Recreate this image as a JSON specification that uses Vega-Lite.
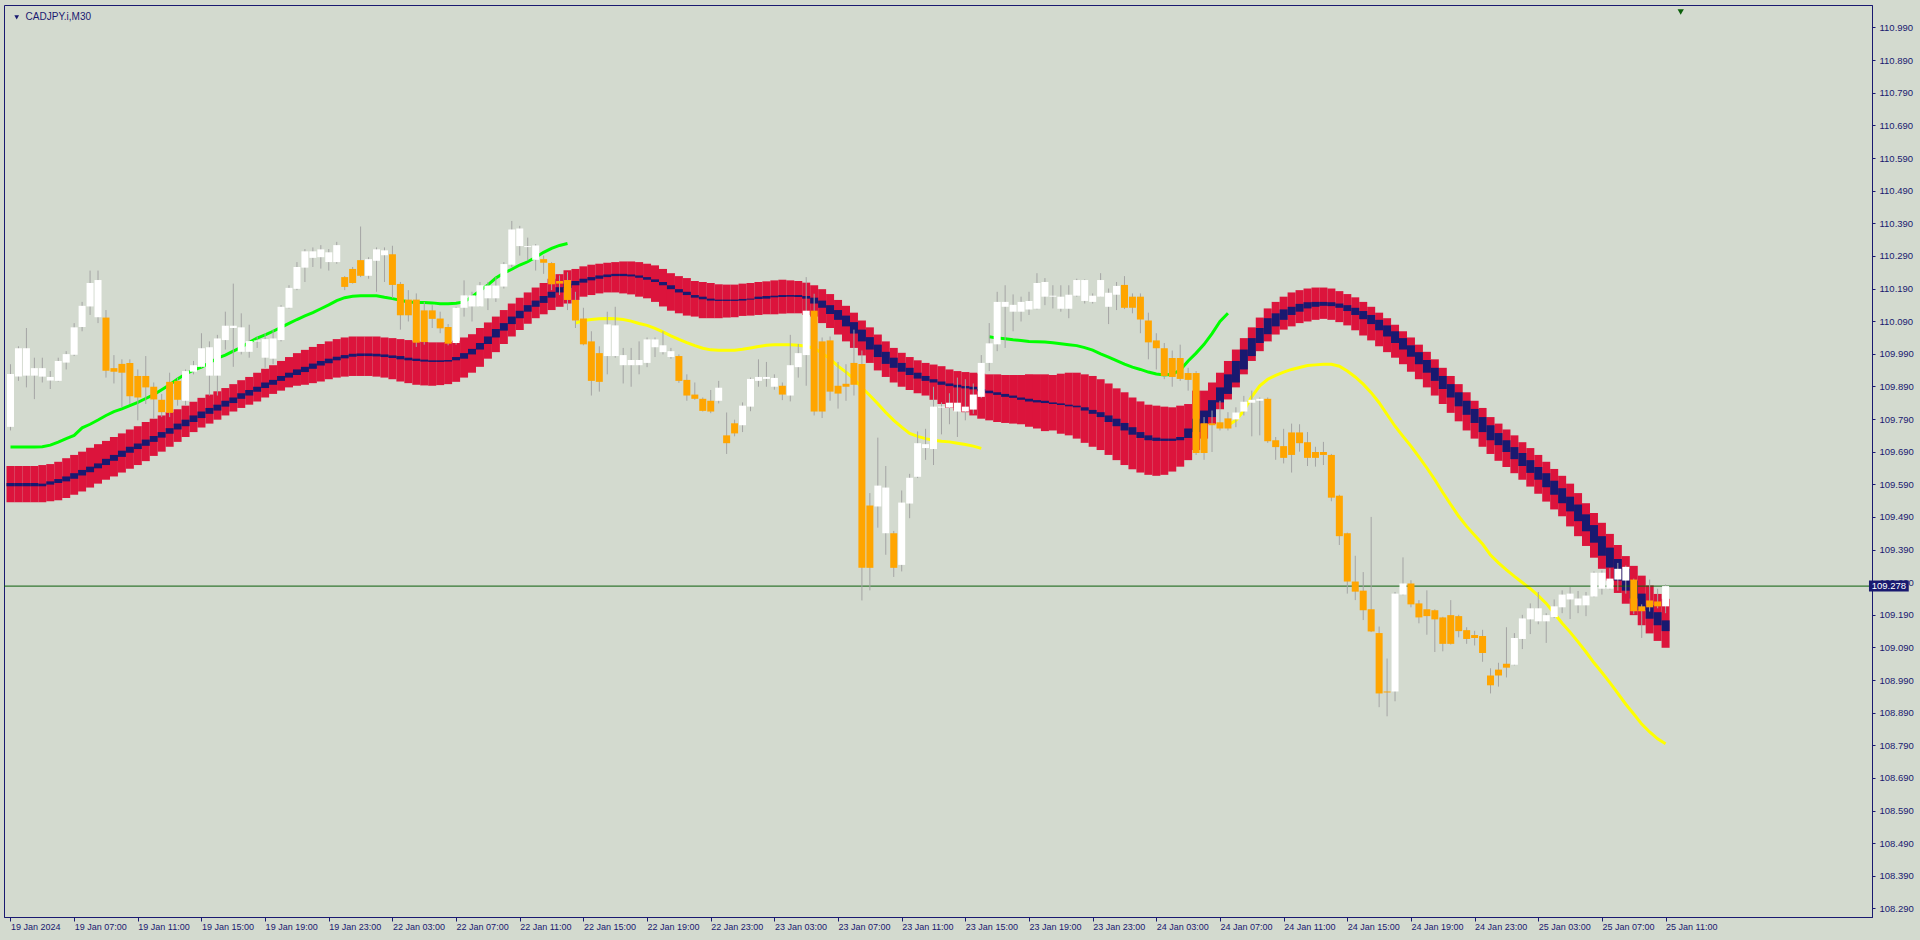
{
"$schema":"https://vega.github.io/schema/vega-lite/v6.json",
"width":1868,"height":912,"autosize":"none",
"padding":{"left":4,"top":5,"right":48,"bottom":23},
"background":"#d3dacf",
"config":{"view":{"stroke":"#191970","strokeWidth":1},
"axis":{"domainColor":"#191970","tickColor":"#191970","labelColor":"#191970","labelFont":"Liberation Sans","labelFontSize":9,"grid":false,"domainWidth":1,"tickWidth":1,"labelOverlap":false}},
"data":{"values":[
{"i":0,"o":109.766,"h":109.958,"l":109.755,"c":109.928,"t":109.646,"b":109.535,"n1":109.594,"n2":109.584,"g1":109.704},
{"i":1,"o":109.920,"h":110.013,"l":109.907,"c":110.007,"t":109.646,"b":109.535,"n1":109.594,"n2":109.584,"g1":109.704},
{"i":2,"o":109.923,"h":110.069,"l":109.887,"c":110.007,"t":109.646,"b":109.535,"n1":109.594,"n2":109.584,"g1":109.704},
{"i":3,"o":109.923,"h":109.978,"l":109.851,"c":109.946,"t":109.646,"b":109.535,"n1":109.594,"n2":109.584,"g1":109.704},
{"i":4,"o":109.920,"h":109.978,"l":109.902,"c":109.946,"t":109.649,"b":109.535,"n1":109.592,"n2":109.584,"g1":109.705},
{"i":5,"o":109.908,"h":109.937,"l":109.882,"c":109.919,"t":109.652,"b":109.538,"n1":109.599,"n2":109.589,"g1":109.710},
{"i":6,"o":109.907,"h":109.978,"l":109.905,"c":109.968,"t":109.659,"b":109.541,"n1":109.606,"n2":109.594,"g1":109.719},
{"i":7,"o":109.963,"h":109.998,"l":109.942,"c":109.989,"t":109.670,"b":109.548,"n1":109.614,"n2":109.599,"g1":109.730},
{"i":8,"o":109.987,"h":110.084,"l":109.983,"c":110.071,"t":109.680,"b":109.558,"n1":109.624,"n2":109.607,"g1":109.740},
{"i":9,"o":110.072,"h":110.149,"l":110.059,"c":110.137,"t":109.690,"b":109.568,"n1":109.634,"n2":109.617,"g1":109.763},
{"i":10,"o":110.135,"h":110.245,"l":110.109,"c":110.207,"t":109.702,"b":109.580,"n1":109.644,"n2":109.627,"g1":109.774},
{"i":11,"o":110.102,"h":110.245,"l":110.084,"c":110.216,"t":109.713,"b":109.592,"n1":109.654,"n2":109.639,"g1":109.787},
{"i":12,"o":110.101,"h":110.124,"l":109.917,"c":109.938,"t":109.723,"b":109.604,"n1":109.668,"n2":109.649,"g1":109.801},
{"i":13,"o":109.946,"h":109.986,"l":109.899,"c":109.935,"t":109.735,"b":109.614,"n1":109.680,"n2":109.662,"g1":109.813},
{"i":14,"o":109.959,"h":109.973,"l":109.826,"c":109.932,"t":109.746,"b":109.626,"n1":109.693,"n2":109.674,"g1":109.821},
{"i":15,"o":109.962,"h":109.973,"l":109.836,"c":109.860,"t":109.758,"b":109.638,"n1":109.705,"n2":109.687,"g1":109.831},
{"i":16,"o":109.922,"h":109.942,"l":109.786,"c":109.856,"t":109.768,"b":109.649,"n1":109.715,"n2":109.698,"g1":109.841},
{"i":17,"o":109.922,"h":109.983,"l":109.836,"c":109.887,"t":109.781,"b":109.661,"n1":109.727,"n2":109.708,"g1":109.853},
{"i":18,"o":109.889,"h":109.902,"l":109.791,"c":109.850,"t":109.791,"b":109.677,"n1":109.738,"n2":109.720,"g1":109.865},
{"i":19,"o":109.849,"h":109.867,"l":109.796,"c":109.811,"t":109.801,"b":109.690,"n1":109.750,"n2":109.733,"g1":109.880},
{"i":20,"o":109.904,"h":109.932,"l":109.796,"c":109.809,"t":109.811,"b":109.705,"n1":109.762,"n2":109.745,"g1":109.895},
{"i":21,"o":109.907,"h":109.917,"l":109.831,"c":109.849,"t":109.820,"b":109.720,"n1":109.776,"n2":109.758,"g1":109.913},
{"i":22,"o":109.846,"h":109.942,"l":109.831,"c":109.937,"t":109.831,"b":109.735,"n1":109.788,"n2":109.768,"g1":109.928},
{"i":23,"o":109.935,"h":109.968,"l":109.927,"c":109.955,"t":109.843,"b":109.750,"n1":109.801,"n2":109.781,"g1":109.940},
{"i":24,"o":109.950,"h":110.053,"l":109.947,"c":110.007,"t":109.855,"b":109.764,"n1":109.813,"n2":109.793,"g1":109.949},
{"i":25,"o":109.923,"h":110.028,"l":109.862,"c":110.010,"t":109.865,"b":109.776,"n1":109.824,"n2":109.806,"g1":109.962},
{"i":26,"o":109.923,"h":110.048,"l":109.862,"c":110.037,"t":109.875,"b":109.788,"n1":109.834,"n2":109.816,"g1":109.977},
{"i":27,"o":110.032,"h":110.119,"l":110.003,"c":110.076,"t":109.885,"b":109.801,"n1":109.846,"n2":109.828,"g1":109.986},
{"i":28,"o":110.069,"h":110.205,"l":109.950,"c":110.076,"t":109.897,"b":109.813,"n1":109.856,"n2":109.839,"g1":109.998},
{"i":29,"o":109.996,"h":110.114,"l":109.988,"c":110.071,"t":109.909,"b":109.824,"n1":109.869,"n2":109.852,"g1":110.010},
{"i":30,"o":109.996,"h":110.079,"l":109.978,"c":110.029,"t":109.919,"b":109.834,"n1":109.879,"n2":109.862,"g1":110.025},
{"i":31,"o":110.028,"h":110.043,"l":110.008,"c":110.031,"t":109.932,"b":109.844,"n1":109.889,"n2":109.874,"g1":110.038},
{"i":32,"o":109.978,"h":110.053,"l":109.947,"c":110.035,"t":109.944,"b":109.856,"n1":109.902,"n2":109.885,"g1":110.048},
{"i":33,"o":109.975,"h":110.064,"l":109.958,"c":110.037,"t":109.955,"b":109.867,"n1":109.910,"n2":109.895,"g1":110.059},
{"i":34,"o":110.032,"h":110.139,"l":110.028,"c":110.134,"t":109.968,"b":109.877,"n1":109.922,"n2":109.907,"g1":110.071},
{"i":35,"o":110.131,"h":110.200,"l":110.129,"c":110.192,"t":109.980,"b":109.887,"n1":109.932,"n2":109.917,"g1":110.083},
{"i":36,"o":110.189,"h":110.271,"l":110.185,"c":110.256,"t":109.992,"b":109.892,"n1":109.942,"n2":109.925,"g1":110.095},
{"i":37,"o":110.254,"h":110.311,"l":110.210,"c":110.304,"t":110.002,"b":109.895,"n1":109.950,"n2":109.934,"g1":110.106},
{"i":38,"o":110.284,"h":110.316,"l":110.256,"c":110.304,"t":110.011,"b":109.900,"n1":109.960,"n2":109.944,"g1":110.116},
{"i":39,"o":110.286,"h":110.323,"l":110.251,"c":110.310,"t":110.020,"b":109.905,"n1":109.968,"n2":109.954,"g1":110.128},
{"i":40,"o":110.271,"h":110.311,"l":110.245,"c":110.301,"t":110.028,"b":109.912,"n1":109.975,"n2":109.961,"g1":110.140},
{"i":41,"o":110.271,"h":110.333,"l":110.266,"c":110.323,"t":110.035,"b":109.917,"n1":109.981,"n2":109.970,"g1":110.153},
{"i":42,"o":110.225,"h":110.228,"l":110.185,"c":110.195,"t":110.040,"b":109.920,"n1":109.986,"n2":109.976,"g1":110.162},
{"i":43,"o":110.250,"h":110.256,"l":110.205,"c":110.207,"t":110.043,"b":109.922,"n1":109.990,"n2":109.981,"g1":110.166},
{"i":44,"o":110.277,"h":110.380,"l":110.225,"c":110.229,"t":110.043,"b":109.922,"n1":109.991,"n2":109.983,"g1":110.168},
{"i":45,"o":110.229,"h":110.286,"l":110.220,"c":110.280,"t":110.043,"b":109.922,"n1":109.991,"n2":109.983,"g1":110.168},
{"i":46,"o":110.275,"h":110.316,"l":110.180,"c":110.310,"t":110.043,"b":109.920,"n1":109.990,"n2":109.982,"g1":110.168},
{"i":47,"o":110.292,"h":110.316,"l":110.210,"c":110.307,"t":110.040,"b":109.917,"n1":109.988,"n2":109.980,"g1":110.163},
{"i":48,"o":110.295,"h":110.321,"l":110.160,"c":110.201,"t":110.038,"b":109.912,"n1":109.985,"n2":109.977,"g1":110.159},
{"i":49,"o":110.204,"h":110.210,"l":110.064,"c":110.108,"t":110.035,"b":109.905,"n1":109.983,"n2":109.973,"g1":110.154},
{"i":50,"o":110.156,"h":110.185,"l":110.089,"c":110.108,"t":110.032,"b":109.900,"n1":109.978,"n2":109.970,"g1":110.149},
{"i":51,"o":110.156,"h":110.175,"l":110.011,"c":110.024,"t":110.028,"b":109.895,"n1":109.975,"n2":109.968,"g1":110.147},
{"i":52,"o":110.123,"h":110.149,"l":110.018,"c":110.026,"t":110.026,"b":109.893,"n1":109.972,"n2":109.966,"g1":110.147},
{"i":53,"o":110.123,"h":110.139,"l":110.069,"c":110.097,"t":110.025,"b":109.892,"n1":109.970,"n2":109.965,"g1":110.146},
{"i":54,"o":110.098,"h":110.119,"l":110.053,"c":110.068,"t":110.025,"b":109.894,"n1":109.970,"n2":109.965,"g1":110.143},
{"i":55,"o":110.072,"h":110.081,"l":110.016,"c":110.021,"t":110.026,"b":109.897,"n1":109.971,"n2":109.966,"g1":110.143},
{"i":56,"o":110.023,"h":110.134,"l":110.018,"c":110.131,"t":110.030,"b":109.904,"n1":109.980,"n2":109.970,"g1":110.145},
{"i":57,"o":110.131,"h":110.215,"l":110.104,"c":110.169,"t":110.040,"b":109.917,"n1":109.992,"n2":109.975,"g1":110.149},
{"i":58,"o":110.135,"h":110.180,"l":110.089,"c":110.169,"t":110.050,"b":109.932,"n1":110.005,"n2":109.988,"g1":110.165},
{"i":59,"o":110.135,"h":110.210,"l":110.134,"c":110.200,"t":110.069,"b":109.950,"n1":110.023,"n2":110.003,"g1":110.183},
{"i":60,"o":110.160,"h":110.210,"l":110.124,"c":110.199,"t":110.086,"b":109.975,"n1":110.043,"n2":110.020,"g1":110.201},
{"i":61,"o":110.160,"h":110.225,"l":110.149,"c":110.199,"t":110.104,"b":109.995,"n1":110.066,"n2":110.040,"g1":110.222},
{"i":62,"o":110.196,"h":110.271,"l":110.190,"c":110.265,"t":110.124,"b":110.020,"n1":110.084,"n2":110.061,"g1":110.237},
{"i":63,"o":110.263,"h":110.397,"l":110.256,"c":110.371,"t":110.144,"b":110.043,"n1":110.104,"n2":110.081,"g1":110.249},
{"i":64,"o":110.320,"h":110.382,"l":110.291,"c":110.374,"t":110.162,"b":110.063,"n1":110.122,"n2":110.099,"g1":110.262},
{"i":65,"o":110.317,"h":110.346,"l":110.276,"c":110.320,"t":110.178,"b":110.082,"n1":110.139,"n2":110.119,"g1":110.272},
{"i":66,"o":110.278,"h":110.326,"l":110.245,"c":110.322,"t":110.193,"b":110.099,"n1":110.153,"n2":110.134,"g1":110.286},
{"i":67,"o":110.280,"h":110.291,"l":110.235,"c":110.269,"t":110.207,"b":110.111,"n1":110.167,"n2":110.146,"g1":110.301},
{"i":68,"o":110.268,"h":110.271,"l":110.185,"c":110.203,"t":110.220,"b":110.124,"n1":110.180,"n2":110.162,"g1":110.313},
{"i":69,"o":110.213,"h":110.230,"l":110.170,"c":110.205,"t":110.234,"b":110.134,"n1":110.194,"n2":110.178,"g1":110.322},
{"i":70,"o":110.216,"h":110.240,"l":110.124,"c":110.155,"t":110.246,"b":110.144,"n1":110.205,"n2":110.192,"g1":110.328},
{"i":71,"o":110.155,"h":110.180,"l":110.069,"c":110.092,"t":110.250,"b":110.155,"n1":110.213,"n2":110.200,"y1":110.084},
{"i":72,"o":110.098,"h":110.131,"l":110.016,"c":110.019,"t":110.258,"b":110.165,"n1":110.220,"n2":110.208,"y1":110.092},
{"i":73,"o":110.028,"h":110.059,"l":109.862,"c":109.907,"t":110.263,"b":110.170,"n1":110.225,"n2":110.215,"y1":110.095},
{"i":74,"o":109.992,"h":110.013,"l":109.874,"c":109.904,"t":110.266,"b":110.175,"n1":110.230,"n2":110.220,"y1":110.097},
{"i":75,"o":109.983,"h":110.119,"l":109.927,"c":110.080,"t":110.269,"b":110.178,"n1":110.233,"n2":110.225,"y1":110.098},
{"i":76,"o":109.983,"h":110.134,"l":109.978,"c":110.077,"t":110.271,"b":110.178,"n1":110.235,"n2":110.228,"y1":110.097},
{"i":77,"o":109.955,"h":110.008,"l":109.899,"c":109.986,"t":110.273,"b":110.175,"n1":110.235,"n2":110.228,"y1":110.095},
{"i":78,"o":109.955,"h":110.008,"l":109.889,"c":109.971,"t":110.273,"b":110.172,"n1":110.233,"n2":110.227,"y1":110.090},
{"i":79,"o":109.955,"h":110.028,"l":109.927,"c":109.971,"t":110.271,"b":110.165,"n1":110.230,"n2":110.223,"y1":110.083},
{"i":80,"o":109.962,"h":110.040,"l":109.949,"c":110.034,"t":110.266,"b":110.160,"n1":110.225,"n2":110.217,"y1":110.077},
{"i":81,"o":110.010,"h":110.040,"l":109.980,"c":110.034,"t":110.261,"b":110.149,"n1":110.218,"n2":110.210,"y1":110.068},
{"i":82,"o":109.995,"h":110.059,"l":109.988,"c":110.016,"t":110.250,"b":110.135,"n1":110.210,"n2":110.200,"y1":110.057},
{"i":83,"o":109.980,"h":110.008,"l":109.975,"c":109.998,"t":110.237,"b":110.122,"n1":110.200,"n2":110.188,"y1":110.045},
{"i":84,"o":109.983,"h":109.988,"l":109.901,"c":109.907,"t":110.228,"b":110.114,"n1":110.188,"n2":110.178,"y1":110.034},
{"i":85,"o":109.910,"h":109.927,"l":109.846,"c":109.862,"t":110.222,"b":110.107,"n1":110.180,"n2":110.170,"y1":110.024},
{"i":86,"o":109.865,"h":109.902,"l":109.849,"c":109.852,"t":110.213,"b":110.104,"n1":110.170,"n2":110.162,"y1":110.015},
{"i":87,"o":109.852,"h":109.856,"l":109.813,"c":109.815,"t":110.210,"b":110.099,"n1":110.165,"n2":110.157,"y1":110.007},
{"i":88,"o":109.846,"h":109.879,"l":109.808,"c":109.813,"t":110.207,"b":110.099,"n1":110.159,"n2":110.153,"y1":110.002},
{"i":89,"o":109.846,"h":109.907,"l":109.838,"c":109.886,"t":110.203,"b":110.099,"n1":110.156,"n2":110.152,"y1":110.001},
{"i":90,"o":109.740,"h":109.810,"l":109.683,"c":109.716,"t":110.202,"b":110.101,"n1":110.156,"n2":110.152,"y1":110.001},
{"i":91,"o":109.777,"h":109.788,"l":109.737,"c":109.746,"t":110.202,"b":110.102,"n1":110.156,"n2":110.152,"y1":110.001},
{"i":92,"o":109.771,"h":109.841,"l":109.750,"c":109.831,"t":110.205,"b":110.106,"n1":110.158,"n2":110.153,"y1":110.004},
{"i":93,"o":109.828,"h":109.917,"l":109.814,"c":109.913,"t":110.207,"b":110.107,"n1":110.159,"n2":110.156,"y1":110.008},
{"i":94,"o":109.907,"h":109.973,"l":109.889,"c":109.919,"t":110.210,"b":110.109,"n1":110.165,"n2":110.158,"y1":110.012},
{"i":95,"o":109.913,"h":109.965,"l":109.889,"c":109.919,"t":110.212,"b":110.111,"n1":110.167,"n2":110.159,"y1":110.016},
{"i":96,"o":109.889,"h":109.927,"l":109.880,"c":109.916,"t":110.215,"b":110.111,"n1":110.168,"n2":110.163,"y1":110.018},
{"i":97,"o":109.892,"h":109.902,"l":109.848,"c":109.865,"t":110.217,"b":110.113,"n1":110.170,"n2":110.164,"y1":110.018},
{"i":98,"o":109.862,"h":110.048,"l":109.844,"c":109.955,"t":110.215,"b":110.114,"n1":110.170,"n2":110.165,"y1":110.018},
{"i":99,"o":109.949,"h":110.020,"l":109.917,"c":109.992,"t":110.213,"b":110.114,"n1":110.170,"n2":110.164,"y1":110.016},
{"i":100,"o":109.986,"h":110.225,"l":109.892,"c":110.122,"t":110.208,"b":110.109,"n1":110.167,"n2":110.159,"y1":110.013},
{"i":101,"o":110.122,"h":110.174,"l":109.801,"c":109.813,"t":110.200,"b":110.104,"n1":110.162,"n2":110.144,"y1":110.007},
{"i":102,"o":110.028,"h":110.040,"l":109.793,"c":109.813,"t":110.188,"b":110.084,"n1":110.153,"n2":110.131,"y1":109.992},
{"i":103,"o":110.031,"h":110.043,"l":109.846,"c":109.874,"t":110.173,"b":110.069,"n1":110.139,"n2":110.112,"y1":109.974},
{"i":104,"o":109.892,"h":109.965,"l":109.822,"c":109.868,"t":110.155,"b":110.049,"n1":110.124,"n2":110.094,"y1":109.952},
{"i":105,"o":109.898,"h":109.958,"l":109.846,"c":109.889,"t":110.137,"b":110.028,"n1":110.107,"n2":110.074,"y1":109.934},
{"i":106,"o":109.962,"h":110.064,"l":109.862,"c":109.895,"t":110.116,"b":110.008,"n1":110.087,"n2":110.052,"y1":109.913},
{"i":107,"o":109.959,"h":110.000,"l":109.234,"c":109.334,"t":110.092,"b":109.985,"n1":110.064,"n2":110.028,"y1":109.886},
{"i":108,"o":109.525,"h":109.563,"l":109.265,"c":109.334,"t":110.071,"b":109.962,"n1":110.041,"n2":110.003,"y1":109.862},
{"i":109,"o":109.522,"h":109.733,"l":109.457,"c":109.586,"t":110.049,"b":109.939,"n1":110.018,"n2":109.980,"y1":109.837},
{"i":110,"o":109.440,"h":109.646,"l":109.374,"c":109.580,"t":110.028,"b":109.919,"n1":109.996,"n2":109.959,"y1":109.810},
{"i":111,"o":109.440,"h":109.447,"l":109.306,"c":109.334,"t":110.008,"b":109.902,"n1":109.978,"n2":109.947,"y1":109.786},
{"i":112,"o":109.343,"h":109.571,"l":109.323,"c":109.534,"t":109.993,"b":109.889,"n1":109.962,"n2":109.935,"y1":109.765},
{"i":113,"o":109.531,"h":109.622,"l":109.486,"c":109.610,"t":109.980,"b":109.879,"n1":109.947,"n2":109.925,"y1":109.746},
{"i":114,"o":109.613,"h":109.752,"l":109.609,"c":109.716,"t":109.970,"b":109.869,"n1":109.932,"n2":109.914,"y1":109.737},
{"i":115,"o":109.701,"h":109.760,"l":109.665,"c":109.713,"t":109.962,"b":109.862,"n1":109.922,"n2":109.907,"y1":109.730},
{"i":116,"o":109.698,"h":109.889,"l":109.649,"c":109.828,"t":109.957,"b":109.849,"n1":109.912,"n2":109.902,"y1":109.725},
{"i":117,"o":109.825,"h":109.841,"l":109.743,"c":109.828,"t":109.952,"b":109.836,"n1":109.905,"n2":109.895,"y1":109.722},
{"i":118,"o":109.825,"h":109.869,"l":109.774,"c":109.840,"t":109.942,"b":109.824,"n1":109.899,"n2":109.891,"y1":109.720},
{"i":119,"o":109.813,"h":109.917,"l":109.735,"c":109.840,"t":109.937,"b":109.816,"n1":109.895,"n2":109.887,"y1":109.716},
{"i":120,"o":109.813,"h":109.912,"l":109.786,"c":109.828,"t":109.934,"b":109.811,"n1":109.891,"n2":109.884,"y1":109.712},
{"i":121,"o":109.819,"h":109.899,"l":109.806,"c":109.865,"t":109.932,"b":109.801,"n1":109.889,"n2":109.881,"y1":109.707},
{"i":122,"o":109.858,"h":109.986,"l":109.854,"c":109.962,"t":109.929,"b":109.791,"n1":109.882,"n2":109.875,"y1":109.700},
{"i":123,"o":109.962,"h":110.084,"l":109.937,"c":110.022,"t":109.927,"b":109.786,"n1":109.877,"n2":109.869,"g2":110.042},
{"i":124,"o":110.019,"h":110.180,"l":109.998,"c":110.149,"t":109.927,"b":109.781,"n1":109.872,"n2":109.864,"g2":110.038},
{"i":125,"o":110.134,"h":110.200,"l":110.008,"c":110.149,"t":109.925,"b":109.778,"n1":109.867,"n2":109.858,"g2":110.036},
{"i":126,"o":110.119,"h":110.172,"l":110.059,"c":110.140,"t":109.925,"b":109.776,"n1":109.862,"n2":109.855,"g2":110.033},
{"i":127,"o":110.119,"h":110.165,"l":110.089,"c":110.149,"t":109.925,"b":109.774,"n1":109.856,"n2":109.849,"g2":110.031},
{"i":128,"o":110.126,"h":110.180,"l":110.109,"c":110.152,"t":109.927,"b":109.766,"n1":109.852,"n2":109.844,"g2":110.028},
{"i":129,"o":110.128,"h":110.237,"l":110.126,"c":110.207,"t":109.927,"b":109.761,"n1":109.848,"n2":109.841,"g2":110.027},
{"i":130,"o":110.165,"h":110.222,"l":110.139,"c":110.210,"t":109.927,"b":109.753,"n1":109.846,"n2":109.839,"g2":110.026},
{"i":131,"o":110.165,"h":110.200,"l":110.129,"c":110.168,"t":109.925,"b":109.755,"n1":109.841,"n2":109.836,"g2":110.024},
{"i":132,"o":110.128,"h":110.200,"l":110.119,"c":110.165,"t":109.929,"b":109.745,"n1":109.838,"n2":109.833,"g2":110.021},
{"i":133,"o":110.128,"h":110.200,"l":110.099,"c":110.171,"t":109.932,"b":109.740,"n1":109.834,"n2":109.829,"g2":110.018},
{"i":134,"o":110.168,"h":110.220,"l":110.165,"c":110.216,"t":109.932,"b":109.730,"n1":109.831,"n2":109.826,"g2":110.015},
{"i":135,"o":110.152,"h":110.218,"l":110.144,"c":110.216,"t":109.927,"b":109.717,"n1":109.826,"n2":109.816,"g2":110.009},
{"i":136,"o":110.149,"h":110.175,"l":110.144,"c":110.168,"t":109.922,"b":109.705,"n1":109.818,"n2":109.806,"g2":110.001},
{"i":137,"o":110.165,"h":110.237,"l":110.165,"c":110.216,"t":109.912,"b":109.695,"n1":109.811,"n2":109.796,"g2":109.990},
{"i":138,"o":110.134,"h":110.190,"l":110.081,"c":110.177,"t":109.899,"b":109.680,"n1":109.801,"n2":109.781,"g2":109.980},
{"i":139,"o":110.171,"h":110.210,"l":110.124,"c":110.198,"t":109.884,"b":109.664,"n1":109.791,"n2":109.768,"g2":109.969},
{"i":140,"o":110.201,"h":110.228,"l":110.127,"c":110.131,"t":109.872,"b":109.649,"n1":109.778,"n2":109.755,"g2":109.958},
{"i":141,"o":110.165,"h":110.175,"l":110.114,"c":110.131,"t":109.856,"b":109.636,"n1":109.765,"n2":109.742,"g2":109.949},
{"i":142,"o":110.165,"h":110.175,"l":110.053,"c":110.095,"t":109.844,"b":109.626,"n1":109.750,"n2":109.732,"g2":109.942},
{"i":143,"o":110.092,"h":110.116,"l":109.973,"c":110.025,"t":109.834,"b":109.619,"n1":109.740,"n2":109.725,"g2":109.934},
{"i":144,"o":110.031,"h":110.053,"l":109.942,"c":110.007,"t":109.831,"b":109.616,"n1":109.733,"n2":109.723,"g2":109.928},
{"i":145,"o":110.007,"h":110.023,"l":109.912,"c":109.922,"t":109.828,"b":109.619,"n1":109.730,"n2":109.723,"g2":109.925},
{"i":146,"o":109.977,"h":110.000,"l":109.889,"c":109.919,"t":109.826,"b":109.629,"n1":109.730,"n2":109.723,"g2":109.927},
{"i":147,"o":109.977,"h":110.018,"l":109.907,"c":109.913,"t":109.831,"b":109.644,"n1":109.735,"n2":109.725,"g2":109.940},
{"i":148,"o":109.931,"h":109.947,"l":109.877,"c":109.910,"t":109.836,"b":109.664,"n1":109.761,"n2":109.732,"g2":109.968},
{"i":149,"o":109.931,"h":109.937,"l":109.680,"c":109.686,"t":109.877,"b":109.695,"n1":109.791,"n2":109.750,"g2":109.992},
{"i":150,"o":109.777,"h":109.796,"l":109.665,"c":109.686,"t":109.877,"b":109.730,"n1":109.816,"n2":109.776,"g2":110.019},
{"i":151,"o":109.777,"h":109.816,"l":109.689,"c":109.771,"t":109.902,"b":109.775,"n1":109.848,"n2":109.796,"g2":110.052},
{"i":152,"o":109.780,"h":109.846,"l":109.755,"c":109.761,"t":109.932,"b":109.820,"n1":109.887,"n2":109.841,"g2":110.089},
{"i":153,"o":109.792,"h":109.811,"l":109.755,"c":109.761,"t":109.968,"b":109.850,"n1":109.927,"n2":109.867,"g2":110.114,"y2":109.771},
{"i":154,"o":109.789,"h":109.826,"l":109.765,"c":109.810,"t":110.003,"b":109.887,"n1":109.968,"n2":109.902,"y2":109.786},
{"i":155,"o":109.813,"h":109.861,"l":109.801,"c":109.843,"t":110.038,"b":109.927,"n1":110.003,"n2":109.942,"y2":109.816},
{"i":156,"o":109.840,"h":109.877,"l":109.737,"c":109.849,"t":110.071,"b":109.968,"n1":110.038,"n2":109.983,"y2":109.859},
{"i":157,"o":109.846,"h":109.856,"l":109.740,"c":109.852,"t":110.101,"b":109.998,"n1":110.069,"n2":110.023,"y2":109.892},
{"i":158,"o":109.852,"h":109.856,"l":109.717,"c":109.722,"t":110.129,"b":110.028,"n1":110.099,"n2":110.050,"y2":109.912},
{"i":159,"o":109.725,"h":109.735,"l":109.665,"c":109.704,"t":110.149,"b":110.049,"n1":110.114,"n2":110.074,"y2":109.924},
{"i":160,"o":109.707,"h":109.760,"l":109.654,"c":109.671,"t":110.165,"b":110.064,"n1":110.126,"n2":110.094,"y2":109.934},
{"i":161,"o":109.749,"h":109.776,"l":109.626,"c":109.680,"t":110.178,"b":110.074,"n1":110.134,"n2":110.109,"y2":109.942},
{"i":162,"o":109.749,"h":109.774,"l":109.690,"c":109.716,"t":110.185,"b":110.084,"n1":110.143,"n2":110.119,"y2":109.948},
{"i":163,"o":109.719,"h":109.750,"l":109.646,"c":109.671,"t":110.190,"b":110.089,"n1":110.148,"n2":110.129,"y2":109.954},
{"i":164,"o":109.689,"h":109.705,"l":109.644,"c":109.671,"t":110.193,"b":110.094,"n1":110.149,"n2":110.134,"y2":109.956},
{"i":165,"o":109.689,"h":109.720,"l":109.649,"c":109.680,"t":110.193,"b":110.097,"n1":110.149,"n2":110.137,"y2":109.958},
{"i":166,"o":109.680,"h":109.683,"l":109.538,"c":109.549,"t":110.190,"b":110.094,"n1":110.148,"n2":110.136,"y2":109.958},
{"i":167,"o":109.555,"h":109.558,"l":109.404,"c":109.431,"t":110.182,"b":110.087,"n1":110.144,"n2":110.131,"y2":109.952},
{"i":168,"o":109.440,"h":109.442,"l":109.255,"c":109.292,"t":110.173,"b":110.077,"n1":110.139,"n2":110.121,"y2":109.937},
{"i":169,"o":109.292,"h":109.371,"l":109.235,"c":109.261,"t":110.163,"b":110.062,"n1":110.131,"n2":110.109,"y2":109.919},
{"i":170,"o":109.264,"h":109.321,"l":109.174,"c":109.204,"t":110.149,"b":110.046,"n1":110.121,"n2":110.096,"y2":109.897},
{"i":171,"o":109.207,"h":109.490,"l":109.137,"c":109.139,"t":110.134,"b":110.031,"n1":110.109,"n2":110.081,"y2":109.871},
{"i":172,"o":109.134,"h":109.154,"l":108.907,"c":108.949,"t":110.116,"b":110.013,"n1":110.094,"n2":110.062,"y2":109.840},
{"i":173,"o":108.955,"h":109.056,"l":108.879,"c":108.952,"t":110.099,"b":109.995,"n1":110.077,"n2":110.043,"y2":109.804},
{"i":174,"o":108.955,"h":109.260,"l":108.925,"c":109.255,"t":110.079,"b":109.978,"n1":110.059,"n2":110.023,"y2":109.768},
{"i":175,"o":109.252,"h":109.366,"l":109.250,"c":109.286,"t":110.059,"b":109.958,"n1":110.038,"n2":110.003,"y2":109.737},
{"i":176,"o":109.286,"h":109.296,"l":109.213,"c":109.222,"t":110.040,"b":109.935,"n1":110.016,"n2":109.981,"y2":109.707},
{"i":177,"o":109.225,"h":109.235,"l":109.164,"c":109.182,"t":110.018,"b":109.912,"n1":109.995,"n2":109.958,"y2":109.674},
{"i":178,"o":109.207,"h":109.265,"l":109.129,"c":109.186,"t":109.996,"b":109.887,"n1":109.971,"n2":109.932,"y2":109.640},
{"i":179,"o":109.204,"h":109.207,"l":109.076,"c":109.176,"t":109.973,"b":109.862,"n1":109.947,"n2":109.907,"y2":109.604},
{"i":180,"o":109.182,"h":109.184,"l":109.078,"c":109.101,"t":109.947,"b":109.836,"n1":109.922,"n2":109.882,"y2":109.565},
{"i":181,"o":109.189,"h":109.235,"l":109.099,"c":109.101,"t":109.922,"b":109.809,"n1":109.897,"n2":109.856,"y2":109.528},
{"i":182,"o":109.186,"h":109.190,"l":109.121,"c":109.140,"t":109.897,"b":109.783,"n1":109.872,"n2":109.829,"y2":109.492},
{"i":183,"o":109.143,"h":109.152,"l":109.101,"c":109.116,"t":109.872,"b":109.755,"n1":109.846,"n2":109.803,"y2":109.461},
{"i":184,"o":109.128,"h":109.141,"l":109.096,"c":109.119,"t":109.846,"b":109.730,"n1":109.821,"n2":109.778,"y2":109.434},
{"i":185,"o":109.125,"h":109.144,"l":109.046,"c":109.073,"t":109.824,"b":109.705,"n1":109.796,"n2":109.750,"y2":109.407},
{"i":186,"o":109.004,"h":109.026,"l":108.949,"c":108.974,"t":109.796,"b":109.683,"n1":109.771,"n2":109.725,"y2":109.373},
{"i":187,"o":109.022,"h":109.043,"l":108.970,"c":109.004,"t":109.776,"b":109.662,"n1":109.747,"n2":109.710,"y2":109.349},
{"i":188,"o":109.040,"h":109.152,"l":108.998,"c":109.028,"t":109.758,"b":109.643,"n1":109.725,"n2":109.689,"y2":109.328},
{"i":189,"o":109.037,"h":109.134,"l":109.035,"c":109.119,"t":109.740,"b":109.624,"n1":109.704,"n2":109.667,"y2":109.308},
{"i":190,"o":109.116,"h":109.190,"l":109.085,"c":109.179,"t":109.719,"b":109.604,"n1":109.686,"n2":109.646,"y2":109.289},
{"i":191,"o":109.176,"h":109.225,"l":109.131,"c":109.210,"t":109.701,"b":109.583,"n1":109.664,"n2":109.625,"y2":109.270},
{"i":192,"o":109.170,"h":109.260,"l":109.161,"c":109.210,"t":109.680,"b":109.561,"n1":109.643,"n2":109.604,"y2":109.249},
{"i":193,"o":109.170,"h":109.195,"l":109.104,"c":109.189,"t":109.659,"b":109.537,"n1":109.624,"n2":109.581,"y2":109.225},
{"i":194,"o":109.183,"h":109.237,"l":109.180,"c":109.216,"t":109.637,"b":109.513,"n1":109.601,"n2":109.558,"y2":109.195},
{"i":195,"o":109.213,"h":109.265,"l":109.195,"c":109.252,"t":109.616,"b":109.492,"n1":109.578,"n2":109.532,"y2":109.164},
{"i":196,"o":109.237,"h":109.275,"l":109.177,"c":109.255,"t":109.592,"b":109.461,"n1":109.552,"n2":109.507,"y2":109.137},
{"i":197,"o":109.219,"h":109.263,"l":109.195,"c":109.240,"t":109.563,"b":109.431,"n1":109.528,"n2":109.477,"y2":109.107},
{"i":198,"o":109.219,"h":109.260,"l":109.186,"c":109.249,"t":109.532,"b":109.401,"n1":109.498,"n2":109.446,"y2":109.076},
{"i":199,"o":109.246,"h":109.323,"l":109.244,"c":109.319,"t":109.502,"b":109.365,"n1":109.465,"n2":109.411,"y2":109.043},
{"i":200,"o":109.270,"h":109.326,"l":109.252,"c":109.319,"t":109.472,"b":109.331,"n1":109.431,"n2":109.371,"y2":109.013},
{"i":201,"o":109.270,"h":109.333,"l":109.268,"c":109.301,"t":109.438,"b":109.295,"n1":109.396,"n2":109.335,"y2":108.982},
{"i":202,"o":109.298,"h":109.349,"l":109.264,"c":109.331,"t":109.404,"b":109.257,"n1":109.361,"n2":109.295,"y2":108.949},
{"i":203,"o":109.295,"h":109.341,"l":109.255,"c":109.337,"t":109.370,"b":109.224,"n1":109.331,"n2":109.264,"y2":108.916},
{"i":204,"o":109.298,"h":109.301,"l":109.192,"c":109.201,"t":109.340,"b":109.189,"n1":109.295,"n2":109.240,"y2":108.886},
{"i":205,"o":109.216,"h":109.222,"l":109.119,"c":109.201,"t":109.310,"b":109.158,"n1":109.255,"n2":109.204,"y2":108.855},
{"i":206,"o":109.234,"h":109.298,"l":109.200,"c":109.213,"t":109.280,"b":109.133,"n1":109.219,"n2":109.178,"y2":108.831},
{"i":207,"o":109.231,"h":109.270,"l":109.210,"c":109.216,"t":109.254,"b":109.110,"n1":109.198,"n2":109.158,"y2":108.810},
{"i":208,"o":109.216,"h":109.283,"l":109.195,"c":109.278,"t":109.239,"b":109.089,"n1":109.173,"n2":109.140,"y2":108.795}
]},
"layer":[
{"mark":{"type":"bar","size":8,"color":"#dc143c"},
 "encoding":{"x":{"field":"i","type":"quantitative","scale":{"domain":[-0.1875,233.3125],"nice":false,"zero":false},
  "axis":{"orient":"bottom","title":null,"values":[0,8,16,24,32,40,48,56,64,72,80,88,96,104,112,120,128,136,144,152,160,168,176,184,192,200,208],"tickCount":60,
  "labelExpr":"['19 Jan 2024','19 Jan 07:00','19 Jan 11:00','19 Jan 15:00','19 Jan 19:00','19 Jan 23:00','22 Jan 03:00','22 Jan 07:00','22 Jan 11:00','22 Jan 15:00','22 Jan 19:00','22 Jan 23:00','23 Jan 03:00','23 Jan 07:00','23 Jan 11:00','23 Jan 15:00','23 Jan 19:00','23 Jan 23:00','24 Jan 03:00','24 Jan 07:00','24 Jan 11:00','24 Jan 15:00','24 Jan 19:00','24 Jan 23:00','25 Jan 03:00','25 Jan 07:00','25 Jan 11:00'][round(datum.value/8)]",
  "labelAlign":"left","labelBaseline":"top","tickSize":4,"labelPadding":1,"labelOverlap":false,"labelFlush":false}},
  "y":{"field":"t","type":"quantitative","title":null,"scale":{"domain":[108.2792,111.0436],"nice":false,"zero":false},
  "axis":{"orient":"right","title":null,"values":[108.29,108.39,108.49,108.59,108.69,108.79,108.89,108.99,109.09,109.19,109.29,109.39,109.49,109.59,109.69,109.79,109.89,109.99,110.09,110.19,110.29,110.39,110.49,110.59,110.69,110.79,110.89,110.99],"tickCount":60,"format":".3f","tickSize":3,"labelPadding":4,"labelAlign":"left","labelBaseline":"middle","labelOverlap":false,"labelFlush":false,"labelFontSize":9.5}},
  "y2":{"field":"b"}}},
{"mark":{"type":"bar","size":8,"color":"#191970"},
 "encoding":{"x":{"field":"i","type":"quantitative"},"y":{"field":"n1","type":"quantitative","title":null},"y2":{"field":"n2"}}},
{"mark":{"type":"line","color":"#00ff00","strokeWidth":3},
 "encoding":{"x":{"field":"i","type":"quantitative"},"y":{"field":"g1","type":"quantitative","title":null}}},
{"mark":{"type":"line","color":"#ffff00","strokeWidth":3},
 "encoding":{"x":{"field":"i","type":"quantitative"},"y":{"field":"y1","type":"quantitative","title":null}}},
{"mark":{"type":"line","color":"#00ff00","strokeWidth":3},
 "encoding":{"x":{"field":"i","type":"quantitative"},"y":{"field":"g2","type":"quantitative","title":null}}},
{"mark":{"type":"line","color":"#ffff00","strokeWidth":3},
 "encoding":{"x":{"field":"i","type":"quantitative"},"y":{"field":"y2","type":"quantitative","title":null}}},
{"data":{"values":[{"p":109.278}]},
 "mark":{"type":"rule","color":"#0b5f0b","strokeWidth":1},
 "encoding":{"y":{"field":"p","type":"quantitative","title":null}}},
{"mark":{"type":"rule","color":"#a4a4a4","strokeWidth":1},
 "encoding":{"x":{"field":"i","type":"quantitative"},"y":{"field":"l","type":"quantitative","title":null},"y2":{"field":"h"}}},
{"mark":{"type":"bar","size":7,"minBandSize":1},
 "encoding":{"x":{"field":"i","type":"quantitative"},"y":{"field":"o","type":"quantitative","title":null},"y2":{"field":"c"},
  "color":{"condition":{"test":"datum.c >= datum.o","value":"#ffffff"},"value":"#ffa500"}}},
{"data":{"values":[{"p":109.278}]},
 "mark":{"type":"bar","orient":"horizontal","size":11,"color":"#191970"},
 "encoding":{"x":{"datum":233.56,"type":"quantitative"},"x2":{"datum":238.56},"y":{"field":"p","type":"quantitative","title":null}}},
{"data":{"values":[{"p":109.278}]},
 "mark":{"type":"text","color":"#ffffff","font":"Liberation Sans","fontSize":9.5,"align":"center","baseline":"middle"},
 "encoding":{"x":{"datum":236.06,"type":"quantitative"},"y":{"field":"p","type":"quantitative","title":null},"text":{"field":"p","format":".3f"}}},
{"data":{"values":[{}]},
 "mark":{"type":"point","shape":"triangle-down","filled":true,"color":"#0b5f0b","size":40,"opacity":1},
 "encoding":{"x":{"datum":209.9,"type":"quantitative"},"y":{"datum":111.0376,"type":"quantitative"}}},
{"data":{"values":[{}]},
 "mark":{"type":"point","shape":"triangle-down","filled":true,"color":"#191970","size":22,"opacity":1},
 "encoding":{"x":{"datum":0.78,"type":"quantitative"},"y":{"datum":111.021,"type":"quantitative"}}},
{"data":{"values":[{}]},
 "mark":{"type":"text","color":"#191970","font":"Liberation Sans","fontSize":10,"align":"left","baseline":"middle"},
 "encoding":{"x":{"datum":1.9,"type":"quantitative"},"y":{"datum":111.021,"type":"quantitative"},"text":{"value":"CADJPY.i,M30"}}}
]
}
